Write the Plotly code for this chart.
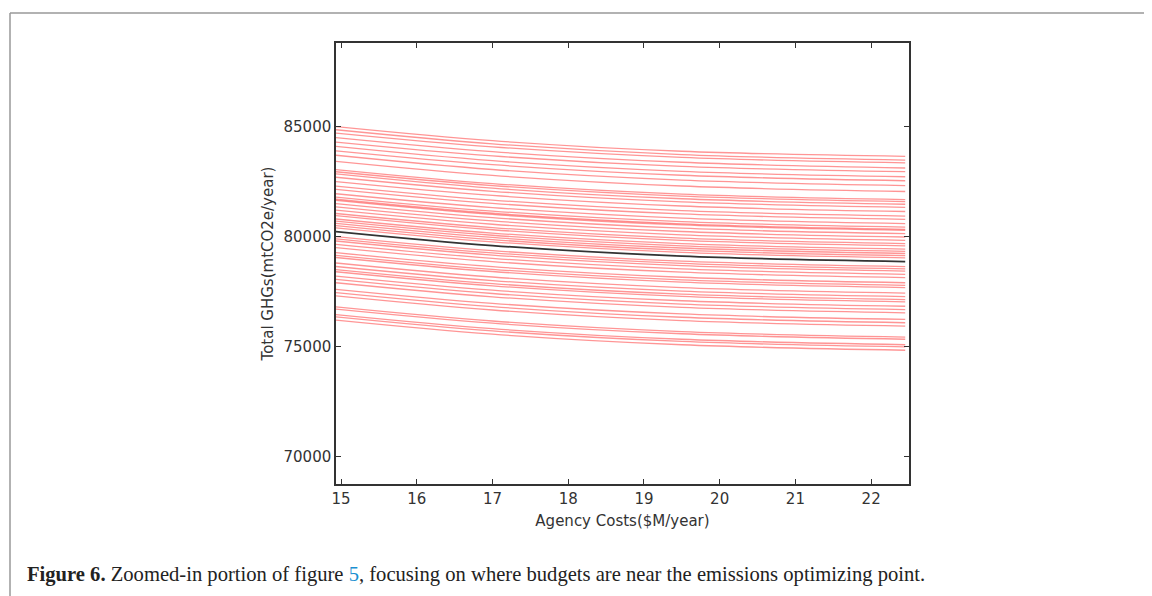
import plotly.graph_objects as go

cost_x = [14.93, 17.0, 19.5, 22.45]

# red scenario curves: GHG totals at the positions above
scenario_ghg = [
    [85000, 84360, 83880, 83650],
    [84860, 84220, 83730, 83480],
    [84710, 84080, 83600, 83350],
    [84500, 83860, 83380, 83120],
    [84300, 83670, 83190, 82950],
    [84100, 83450, 82970, 82720],
    [83900, 83270, 82790, 82540],
    [83700, 83050, 82570, 82320],
    [83420, 82780, 82300, 82050],
    [83050, 82410, 81930, 81680],
    [82950, 82320, 81840, 81590],
    [82850, 82200, 81720, 81470],
    [82700, 82060, 81580, 81330],
    [82500, 81870, 81390, 81140],
    [82300, 81660, 81180, 80930],
    [82150, 81510, 81030, 80780],
    [81950, 81320, 80840, 80590],
    [81800, 81160, 80680, 80430],
    [81700, 81060, 80580, 80330],
    [81650, 81010, 80530, 80280],
    [81500, 80860, 80380, 80130],
    [81350, 80710, 80230, 79980],
    [81200, 80560, 80080, 79830],
    [81050, 80410, 79930, 79680],
    [80950, 80310, 79830, 79580],
    [80800, 80160, 79680, 79430],
    [80700, 80060, 79580, 79330],
    [80600, 79960, 79480, 79230],
    [80500, 79860, 79380, 79130],
    [80400, 79760, 79280, 79030],
    [80000, 79360, 78880, 78630],
    [79900, 79260, 78780, 78530],
    [79800, 79160, 78680, 78430],
    [79650, 79010, 78530, 78280],
    [79500, 78860, 78380, 78130],
    [79270, 78630, 78150, 77900],
    [79150, 78510, 78030, 77780],
    [79050, 78410, 77930, 77680],
    [78800, 78160, 77680, 77430],
    [78640, 78000, 77520, 77270],
    [78500, 77860, 77380, 77130],
    [78400, 77760, 77280, 77030],
    [78200, 77560, 77080, 76830],
    [78050, 77410, 76930, 76680],
    [77900, 77260, 76780, 76530],
    [77600, 76960, 76480, 76230],
    [77450, 76810, 76330, 76080],
    [77300, 76660, 76180, 75930],
    [76800, 76160, 75680, 75430],
    [76700, 76060, 75580, 75330],
    [76450, 75810, 75330, 75080],
    [76350, 75710, 75230, 74980],
    [76200, 75560, 75080, 74830],
]

# black baseline curve
baseline_ghg = [80230, 79590, 79110, 78860]

x_ticks = [15, 16, 17, 18, 19, 20, 21, 22]
y_ticks = [70000, 75000, 80000, 85000]

# figure size (page has an 8px body margin)
W, H = 1144, 588
ML, MR, MT, MB = 328, 243, 35, 112
PW, PH = W - ML - MR, H - MT - MB


def px_x(fx):
    return (fx - ML) / PW


def px_y(fy):
    return (H - MB - fy) / PH


fig = go.Figure()

for ys in scenario_ghg:
    fig.add_trace(go.Scatter(
        x=cost_x, y=ys, mode="lines",
        line=dict(color="rgba(255,20,20,0.45)", width=1.3, shape="spline"),
        hoverinfo="skip", showlegend=False,
    ))

fig.add_trace(go.Scatter(
    x=cost_x, y=baseline_ghg, mode="lines",
    line=dict(color="#333333", width=1.8, shape="spline"),
    showlegend=False,
))

axis_common = dict(
    showline=True, mirror="ticks", linecolor="#333333", linewidth=1.5,
    ticks="inside", ticklen=5, tickwidth=1, tickcolor="#333333",
    showgrid=False, zeroline=False, tickformat="d",
    tickfont=dict(family="DejaVu Sans", size=15, color="#333333"),
)

fig.update_xaxes(
    range=[14.934, 22.5], tickvals=x_ticks,
    title=dict(text="Agency Costs($M/year)", standoff=9,
               font=dict(family="DejaVu Sans", size=15, color="#333333")),
    **axis_common,
)
fig.update_yaxes(
    range=[68745, 88805], tickvals=y_ticks,
    title=dict(text="Total GHGs(mtCO2e/year)", standoff=6,
               font=dict(family="DejaVu Sans", size=15, color="#333333")),
    **axis_common,
)

# caption below the figure
fig.add_annotation(
    x=px_x(17), y=px_y(566), xref="paper", yref="paper", showarrow=False,
    xanchor="left", yanchor="middle",
    text=("<b>Figure 6.</b> Zoomed-in portion of figure "
          "<span style='color:#1a8fd1'>5</span>, focusing on where budgets "
          "are near the emissions optimizing point."),
    font=dict(family="Liberation Serif", size=20.6, color="#222222"),
)

# page border lines (top and left)
fig.add_shape(type="line", xref="paper", yref="paper",
              x0=px_x(2), x1=px_x(W), y0=px_y(5), y1=px_y(5),
              line=dict(color="#999999", width=1.5))
fig.add_shape(type="line", xref="paper", yref="paper",
              x0=px_x(2), x1=px_x(2), y0=px_y(5), y1=px_y(H),
              line=dict(color="#999999", width=1.5))

fig.update_layout(
    width=W, height=H,
    margin=dict(l=ML, r=MR, t=MT, b=MB),
    plot_bgcolor="white", paper_bgcolor="white",
)

fig.write_html("out.html")
